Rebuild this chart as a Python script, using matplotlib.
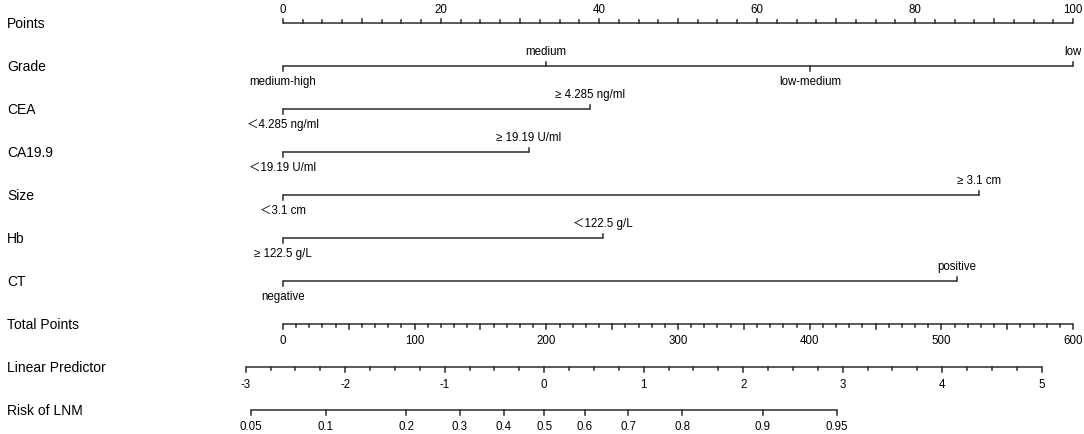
import numpy as np
import matplotlib
matplotlib.use('Agg')
import matplotlib.pyplot as plt

plt.rcParams['font.family'] = ['Liberation Sans', 'Noto Sans CJK SC', 'DejaVu Sans']

# rows of the nomogram
row_names = ['Points', 'Grade', 'CEA', 'CA19.9', 'Size', 'Hb', 'CT',
             'Total Points', 'Linear Predictor', 'Risk of LNM']

# predictor levels and their points
grade_levels = ['medium-high', 'medium', 'low-medium', 'low']
grade_points = [0, 33.3, 66.7, 100]
cea_levels = ['＜4.285 ng/ml', '≥ 4.285 ng/ml']
cea_points = [0, 38.9]
ca199_levels = ['＜19.19 U/ml', '≥ 19.19 U/ml']
ca199_points = [0, 31.1]
size_levels = ['＜3.1 cm', '≥ 3.1 cm']
size_points = [0, 88.1]
hb_levels = ['≥ 122.5 g/L', '＜122.5 g/L']
hb_points = [0, 40.5]
ct_levels = ['negative', 'positive']
ct_points = [0, 85.3]

points_labels = [0, 20, 40, 60, 80, 100]
total_labels = [0, 100, 200, 300, 400, 500, 600]
lp_labels = [-3, -2, -1, 0, 1, 2, 3, 4, 5]
risk_labels = [0.05, 0.1, 0.2, 0.3, 0.4, 0.5, 0.6, 0.7, 0.8, 0.9, 0.95]

# linear predictor = LP0 + LP_SLOPE * total points
LP0 = -2.625
LP_SLOPE = 0.013233


def total_to_x(t):
    return np.asarray(t) / 6.0


def lp_to_x(lp):
    return total_to_x((np.asarray(lp) - LP0) / LP_SLOPE)


def risk_to_x(p):
    p = np.asarray(p)
    return lp_to_x(np.log(p / (1 - p)))


W, H = 1084, 435
fig = plt.figure(figsize=(W / 100, H / 100), dpi=100)
ax = fig.add_axes([0, 0, 1, 1])
ax.set_axis_off()
px = 7.9  # pixels per point
ax.set_xlim(-283 / px, (W - 283) / px)
row_px = 43.0
ax.set_ylim((H - 24) / row_px, -24 / row_px)

lc = '#2b2b2b'
lw = 1.1
fs_row = 10
fs_lab = 8.3
tk = 4.5 / row_px   # major tick length in rows
tk2 = 2.8 / row_px  # minor tick length

ytr = ax.get_yaxis_transform()
for i, name in enumerate(row_names):
    ax.text(0.0065, i, name, transform=ytr, fontsize=fs_row, va='center', ha='left')


def scale_row(row, xs_major, labels, xs_minor=(), up=False, off=15):
    xs_major = np.asarray(xs_major, dtype=float)
    lo = min(xs_major.min(), min(xs_minor) if len(xs_minor) else np.inf)
    hi = max(xs_major.max(), max(xs_minor) if len(xs_minor) else -np.inf)
    ax.plot([lo, hi], [row, row], color=lc, lw=lw, solid_capstyle='butt')
    sgn = -1 if up else 1
    for x in xs_minor:
        ax.plot([x, x], [row, row + sgn * tk2], color=lc, lw=lw)
    for x in xs_major:
        ax.plot([x, x], [row, row + sgn * tk], color=lc, lw=lw)
    for x, lab in zip(xs_major, labels):
        ax.text(x, row + sgn * off / row_px, lab, fontsize=fs_lab,
                ha='center', va='center')


def factor_row(row, pts, levels):
    ax.plot([min(pts), max(pts)], [row, row], color=lc, lw=lw,
            solid_capstyle='butt')
    for k, (x, lab) in enumerate(zip(pts, levels)):
        sgn = 1 if k % 2 == 0 else -1
        ax.plot([x, x], [row, row + sgn * tk], color=lc, lw=lw)
        ax.text(x, row + sgn * 15 / row_px, lab, fontsize=fs_lab,
                ha='center', va='center')


# Points
pmin = [v for v in np.arange(0, 100.1, 2.5) if v % 10 != 0]
pmaj10 = [v for v in np.arange(0, 100.1, 10) if v % 20 != 0]
scale_row(0, points_labels, [str(v) for v in points_labels],
          xs_minor=pmin, up=True, off=14)
for x in pmaj10:
    ax.plot([x, x], [0, -tk], color=lc, lw=lw)

factor_row(1, grade_points, grade_levels)
factor_row(2, cea_points, cea_levels)
factor_row(3, ca199_points, ca199_levels)
factor_row(4, size_points, size_levels)
factor_row(5, hb_points, hb_levels)
factor_row(6, ct_points, ct_levels)

# Total points
tmin = [v for v in range(0, 601, 10) if v % 50 != 0]
tmid = [v for v in range(50, 601, 100)]
scale_row(7, total_to_x(total_labels), [str(v) for v in total_labels],
          xs_minor=total_to_x(tmin), off=16)
for x in total_to_x(tmid):
    ax.plot([x, x], [7, 7 + tk], color=lc, lw=lw)

# Linear predictor
lmin = [v for v in np.arange(-3, 5.01, 0.25) if v % 1 != 0]
scale_row(8, lp_to_x(lp_labels), [str(v) for v in lp_labels],
          xs_minor=lp_to_x(lmin), off=17)

# Risk
scale_row(9, risk_to_x(risk_labels), [f'{v:g}' for v in risk_labels], off=16)

fig.savefig('out.png', dpi=100)
